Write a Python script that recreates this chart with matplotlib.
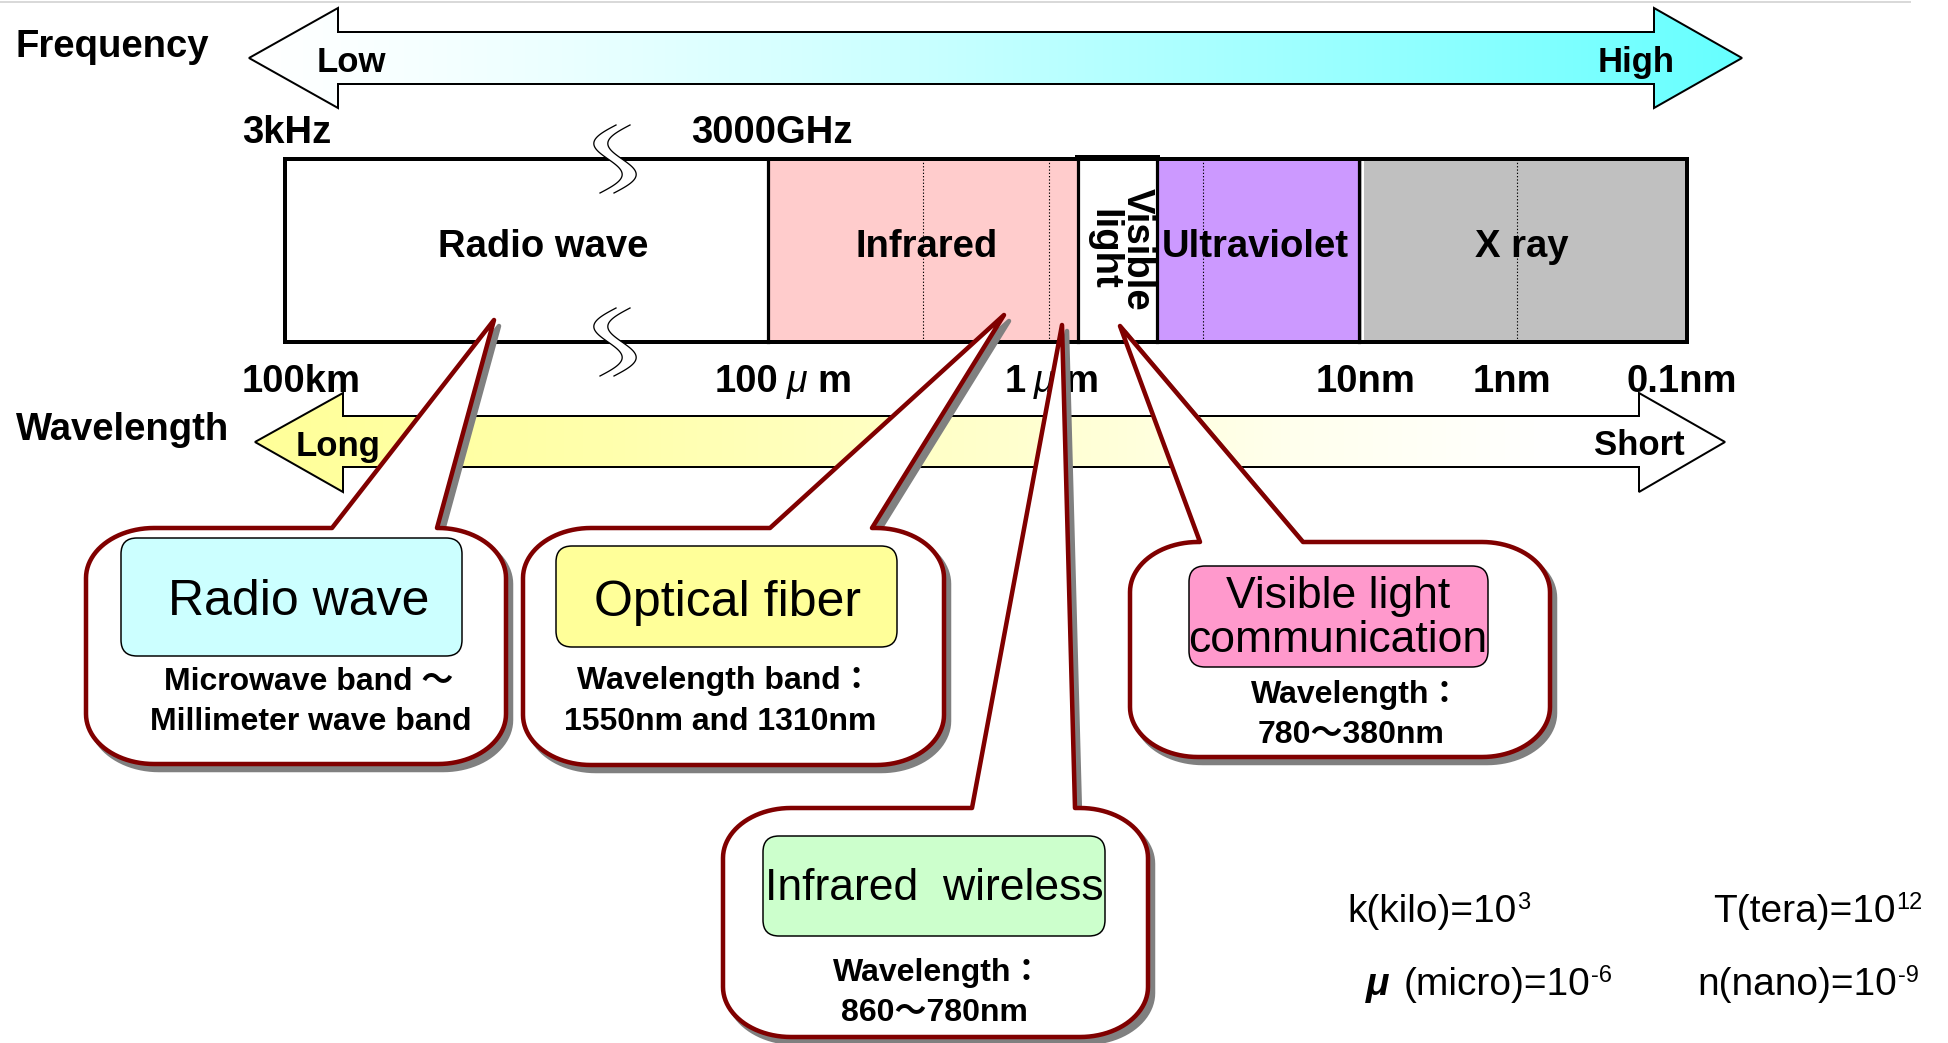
import numpy as np
import matplotlib
matplotlib.use("Agg")
import matplotlib.pyplot as plt
from matplotlib.patches import Polygon, Rectangle, FancyBboxPatch

# ---------------- data (content) ----------------
axis_titles = ["Frequency", "Wavelength"]
frequency_ends = ["Low", "High"]
wavelength_ends = ["Long", "Short"]
frequency_ticks = ["3kHz", "3000GHz"]
wavelength_ticks = ["100km", "100 μ m", "1 μ m", "10nm", "1nm", "0.1nm"]
bands = ["Radio wave", "Infrared", "Visible\nlight", "Ultraviolet", "X ray"]
callout_titles = ["Radio wave", "Optical fiber", "Infrared  wireless",
                  "Visible light\ncommunication"]
callout_details = [
    ["Microwave band ～", "Millimeter wave band"],
    ["Wavelength band：", "1550nm and 1310nm"],
    ["Wavelength：", "860～780nm"],
    ["Wavelength：", "780～380nm"],
]
prefix_symbols = ["k", "T", "μ", "n"]
prefix_names = ["kilo", "tera", "micro", "nano"]
prefix_exponents = ["3", "12", "-6", "-9"]

# ---------------- layout / style ----------------
W, H = 1948, 1043
FAM = ["Liberation Sans", "Noto Sans CJK JP", "DejaVu Sans"]
plt.rcParams["font.family"] = FAM
PT = 0.72  # points per pixel at dpi 100

fig = plt.figure(figsize=(W / 100, H / 100), dpi=100)
ax = fig.add_axes([0, 0, 1, 1])
ax.set_xlim(0, W)
ax.set_ylim(H, 0)
ax.axis("off")
renderer = fig.canvas.get_renderer()

BOLD = dict(fontsize=27.5, fontweight="bold", color="black")
ENDS = dict(fontsize=25, fontweight="bold", color="black")


def seq_text(x, y, pieces, zorder=5):
    for s, kw in pieces:
        kw = dict(kw)
        gap = kw.pop("gap", 0)
        dy = kw.pop("dy", 0)
        x += gap
        t = ax.text(x, y + dy, s, ha="left", va="baseline", zorder=zorder, **kw)
        x += t.get_window_extent(renderer=renderer).width
    return x


def gradient_arrow(pts, colfn, z=2):
    pts = np.asarray(pts, float)
    x0, x1 = pts[:, 0].min(), pts[:, 0].max()
    y0, y1 = pts[:, 1].min(), pts[:, 1].max()
    poly = Polygon(pts, closed=True, fc="none", ec="black", lw=2 * PT, zorder=z + 0.5,
                   joinstyle="miter")
    ax.add_patch(poly)
    xs = np.linspace(x0, x1, 600)
    rgb = colfn(xs)
    img = np.tile(rgb[None, :, :], (2, 1, 1))
    im = ax.imshow(img, extent=[x0, x1, y1, y0], aspect="auto",
                   interpolation="bilinear", zorder=z)
    im.set_clip_path(poly)


# faint top rule
ax.plot([0, 1910], [1.5, 1.5], color="#D9D9D9", lw=2 * PT, zorder=1)

# ---- frequency arrow ----
freq_pts = [(249, 58), (338, 8), (338, 32), (1654, 32), (1654, 8), (1742, 58),
            (1654, 108), (1654, 84), (338, 84), (338, 108)]


def freq_col(xs):
    t = np.clip((xs - 249) / (1742 - 249), 0, 1)
    r = 255 - 153 * t ** 1.3
    return np.stack([r / 255, np.ones_like(r), np.ones_like(r)], axis=1)


gradient_arrow(freq_pts, freq_col)

# ---- wavelength arrow ----
wl_pts = [(255, 442), (343, 393), (343, 416), (1639, 416), (1639, 393), (1725, 442),
          (1639, 492), (1639, 467), (343, 467), (343, 492)]


def wl_col(xs):
    b = np.interp(xs, [255, 600, 1000, 1300, 1550], [153, 172, 205, 238, 255])
    return np.stack([np.ones_like(b), np.ones_like(b), b / 255], axis=1)


gradient_arrow(wl_pts, wl_col)
ax.set_xlim(0, W)
ax.set_ylim(H, 0)

# ---- axis titles and end labels ----
ax.text(16, 57, axis_titles[0], ha="left", va="baseline", zorder=5, **BOLD)
ax.text(16, 440, axis_titles[1], ha="left", va="baseline", zorder=5, **BOLD)
ax.text(317, 72, frequency_ends[0], ha="left", va="baseline", zorder=5, **ENDS)
ax.text(1598, 72, frequency_ends[1], ha="left", va="baseline", zorder=5, **ENDS)
ax.text(296, 456, wavelength_ends[0], ha="left", va="baseline", zorder=5, **ENDS)
ax.text(1594, 455, wavelength_ends[1], ha="left", va="baseline", zorder=5, **ENDS)

# ---- spectrum bar ----
BY0, BY1 = 159, 341.5
band_x = [285, 767.5, 1078, 1157, 1359, 1687]
band_fill = ["#FFFFFF", "#FFCCCC", "#FFFFFF", "#CC99FF", "#C0C0C0"]
band_label_x = [543, 927, None, 1255, 1522]
dotted_x = [923, 1048.5, 1203, 1517]

for i in range(len(bands)):
    ax.add_patch(Rectangle((band_x[i], BY0), band_x[i + 1] - band_x[i], BY1 - BY0,
                           fc=band_fill[i], ec="none", zorder=2))
for x in dotted_x:
    ax.plot([x, x], [BY0, BY1], color="black", lw=1.1 * PT, ls=(0, (1.2, 1.8)), zorder=3)
for x in band_x[1:-1]:
    ax.plot([x, x], [BY0, BY1], color="black", lw=3.2 * PT, zorder=3)
ax.plot([1362.5, 1362.5], [BY0 + 3, BY1 - 3], color="white", lw=2 * PT, zorder=3.1)
ax.add_patch(Rectangle((band_x[0], BY0), band_x[-1] - band_x[0], BY1 - BY0, fill=False,
                       ec="black", lw=4 * PT, zorder=3.2, joinstyle="miter"))
ax.plot([band_x[2], band_x[3]], [BY0 - 1, BY0 - 1], color="black", lw=6 * PT, zorder=3.2)

# break marks
def wave(xtop, ytop, h=68, drift=-16, amp=18):
    t = np.linspace(0, 1, 80)
    return xtop + drift * t - amp * np.sin(2 * np.pi * t), ytop + h * t


for ytop in (125, 308):
    xa, ya = wave(616, ytop)
    xb, yb = wave(630, ytop)
    ax.fill(np.r_[xa, xb[::-1]], np.r_[ya, yb[::-1]], color="white", zorder=3.5, lw=0)
    ax.plot(xa, ya, color="black", lw=1.3 * PT, zorder=3.6)
    ax.plot(xb, yb, color="black", lw=1.3 * PT, zorder=3.6)

# band labels
for i, name in enumerate(bands):
    if band_label_x[i] is not None:
        ax.text(band_label_x[i], 257, name, ha="center", va="baseline", zorder=5, **BOLD)
# "Visible / light" written top-to-bottom as one two-line text
ax.text(1091, 249, bands[2], rotation=-90, rotation_mode="anchor", ha="center",
        va="baseline", multialignment="center", linespacing=0.93, zorder=5, **BOLD)

# frequency tick labels
for lab, x in zip(frequency_ticks, [242, 691]):
    ax.text(x, 143, lab, ha="left", va="baseline", zorder=5, **BOLD)

# wavelength tick labels
wl_tick_x = [242, 715, 1005, 1316, 1473, 1627]
for lab, x in zip(wavelength_ticks, wl_tick_x):
    if " μ " in lab:
        num, unit = lab.split(" μ ")
        seq_text(x, 392, [(num, BOLD),
                          ("μ", dict(fontsize=27, style="italic", gap=8)),
                          (unit, dict(BOLD, gap=10))])
    else:
        ax.text(x, 392, lab, ha="left", va="baseline", zorder=5, **BOLD)

# ---- callouts ----
callout_layout = [
    dict(box=(86, 528, 506, 764), base=(332, 437), tip=(494, 320),
         inner=(121, 538, 462, 656), color="#CCFFFF", title=[(299, 615)], fs=36,
         det=[(309, 690), (311, 730)]),
    dict(box=(523, 528, 944, 765), base=(770, 872), tip=(1004, 315),
         inner=(556, 546, 897, 647), color="#FFFF99", title=[(727, 616)], fs=36,
         det=[(725, 689), (720, 730)]),
    dict(box=(723, 808, 1148, 1037), base=(972, 1075), tip=(1062, 325),
         inner=(763, 836, 1105, 936), color="#CCFFCC", title=[(934, 900)], fs=32,
         det=[(938, 981), (934, 1021)]),
    dict(box=(1130, 542, 1550, 757), base=(1200, 1303), tip=(1120, 326),
         inner=(1189, 566, 1488, 667), color="#FF99CC", title=[(1338, 608), (1338, 652)],
         fs=32, det=[(1356, 703), (1351, 743)]),
]


def bubble_pts(x0, y0, x1, y1, bl, br, tip, rx=68, ry=50, n=24):
    pts = [(x0 + rx, y0), (bl, y0), tip, (br, y0), (x1 - rx, y0)]

    def arc(cx, cy, a0, a1):
        t = np.linspace(a0, a1, n)
        return list(zip(cx + rx * np.cos(t), cy + ry * np.sin(t)))

    pts += arc(x1 - rx, y0 + ry, -np.pi / 2, 0)
    pts += arc(x1 - rx, y1 - ry, 0, np.pi / 2)
    pts += arc(x0 + rx, y1 - ry, np.pi / 2, np.pi)
    pts += arc(x0 + rx, y0 + ry, np.pi, 1.5 * np.pi)
    return np.array(pts)


DET = dict(fontsize=23, fontweight="bold", color="black")
for k, lay in enumerate(callout_layout):
    x0, y0, x1, y1 = lay["box"]
    pts = bubble_pts(x0, y0, x1, y1, lay["base"][0], lay["base"][1], lay["tip"])
    ax.add_patch(Polygon(pts + np.array([5, 6]), closed=True, fc="#808080", ec="#808080",
                         lw=4.5 * PT, zorder=6, joinstyle="round"))
for k, lay in enumerate(callout_layout):
    x0, y0, x1, y1 = lay["box"]
    pts = bubble_pts(x0, y0, x1, y1, lay["base"][0], lay["base"][1], lay["tip"])
    ax.add_patch(Polygon(pts, closed=True, fc="white", ec="#800000", lw=4.5 * PT,
                         zorder=7, joinstyle="round"))
    ix0, iy0, ix1, iy1 = lay["inner"]
    ax.add_patch(FancyBboxPatch((ix0, iy0), ix1 - ix0, iy1 - iy0,
                                boxstyle="round,pad=0,rounding_size=16",
                                fc=lay["color"], ec="black", lw=1.5 * PT, zorder=8))
    for line, (tx, ty) in zip(callout_titles[k].split("\n"), lay["title"]):
        ax.text(tx, ty, line, ha="center", va="baseline", fontsize=lay["fs"],
                color="black", zorder=9)
    for line, (tx, ty) in zip(callout_details[k], lay["det"]):
        ax.text(tx, ty, line, ha="center", va="baseline", zorder=9, **DET)

# ---- unit prefixes ----
UNIT = dict(fontsize=28, color="black")
SUP = dict(fontsize=17, color="black", dy=-13, gap=1)
prefix_pos = [(1347, 922), (1713, 922), (1366, 995), (1697, 995)]
for sym, name, exp, (px, py) in zip(prefix_symbols, prefix_names, prefix_exponents,
                                    prefix_pos):
    if sym == "μ":
        pieces = [(sym, dict(UNIT, fontweight="bold", style="italic")),
                  ("(" + name + ")=10", dict(UNIT, gap=14)),
                  (exp, SUP)]
    else:
        pieces = [(sym + "(" + name + ")=10", UNIT), (exp, SUP)]
    seq_text(px, py, pieces)

fig.savefig("out.png", dpi=100)
